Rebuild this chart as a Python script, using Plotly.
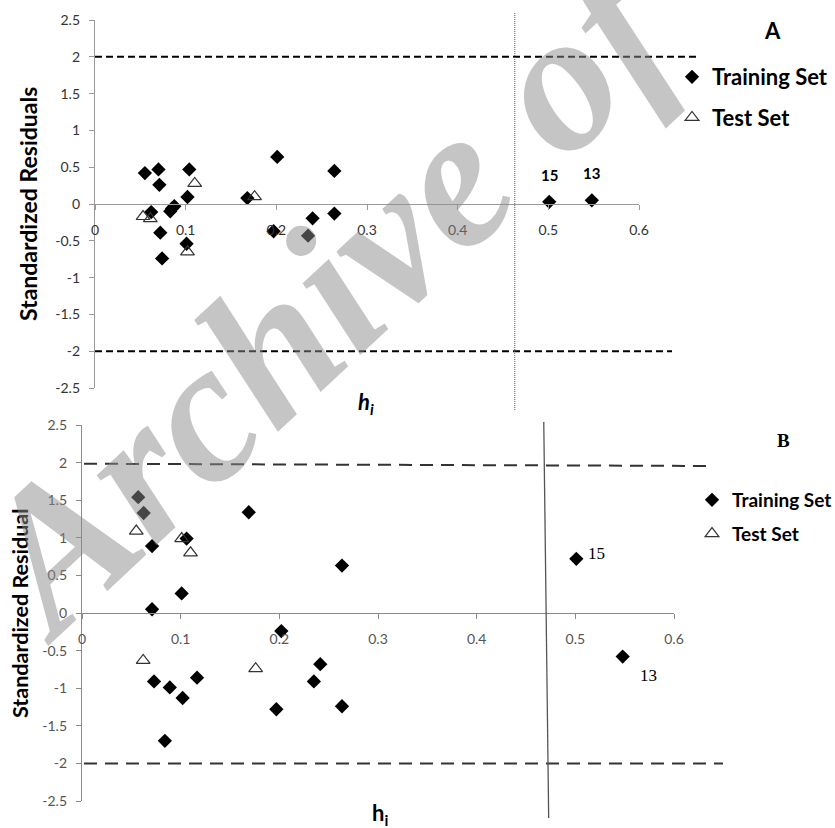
import plotly.graph_objects as go

# ---------------- data ----------------
# Panel A
A_TRAIN_H = [0.055, 0.070, 0.071, 0.062, 0.072, 0.074, 0.083, 0.085, 0.0875, 0.104, 0.102, 0.101,
             0.168, 0.201, 0.197, 0.235, 0.240, 0.264, 0.264, 0.501, 0.548]
A_TRAIN_R = [0.42, 0.47, 0.26, -0.11, -0.39, -0.74, -0.10, -0.06, -0.03, 0.47, 0.095, -0.54,
             0.08, 0.64, -0.37, -0.43, -0.195, 0.45, -0.13, 0.03, 0.05]
A_TEST_H = [0.053, 0.061, 0.110, 0.102, 0.176]
A_TEST_R = [-0.17, -0.20, 0.28, -0.65, 0.10]
A_LABEL_H = [0.501, 0.548]
A_LABEL_R = [0.03, 0.05]
A_LABELS = ["15", "13"]
A_WARNING_H = 0.463

# Panel B
B_TRAIN_H = [0.057, 0.0625, 0.071, 0.071, 0.073, 0.084, 0.089, 0.101, 0.106, 0.102, 0.1166, 0.169,
             0.202, 0.197, 0.235, 0.2415, 0.2635, 0.2635, 0.501, 0.548]
B_TRAIN_R = [1.54, 1.33, 0.89, 0.05, -0.91, -1.70, -0.99, 0.26, 0.99, -1.13, -0.86, 1.34,
             -0.24, -1.28, -0.91, -0.68, 0.63, -1.24, 0.72, -0.58]
B_TEST_H = [0.055, 0.101, 0.110, 0.062, 0.176]
B_TEST_R = [1.09, 0.99, 0.80, -0.63, -0.74]
B_LABEL_H = [0.501, 0.548]
B_LABEL_R = [0.72, -0.58]
B_LABELS = ["15", "13"]
B_WARNING_H = (0.468, 0.473)

LIMIT = 2
Y_TICKS = [-2.5, -2, -1.5, -1, -0.5, 0, 0.5, 1, 1.5, 2, 2.5]
Y_TICK_TEXT = ["-2.5", "-2", "-1.5", "-1", "-0.5", "0", "0.5", "1", "1.5", "2", "2.5"]
X_TICKS = [0, 0.1, 0.2, 0.3, 0.4, 0.5, 0.6]
X_TICK_TEXT = ["0", "0.1", "0.2", "0.3", "0.4", "0.5", "0.6"]

# ---------------- layout geometry ----------------
W, H = 835, 828
def px_x(p):
    return p / W
def px_y(p):
    return 1 - p / H

A_XDOM = [px_x(95), px_x(639)]
A_YDOM = [px_y(388), px_y(20)]
B_XDOM = [px_x(82), px_x(674)]
B_YDOM = [px_y(801), px_y(425)]
YR = [-2.5, 2.5]

def zero_pos(dom):
    return dom[0] + (0 - YR[0]) / (YR[1] - YR[0]) * (dom[1] - dom[0])

CAL = "Lato"
fig = go.Figure()

fig.add_trace(go.Scatter(x=A_TRAIN_H, y=A_TRAIN_R, mode="markers", name="Training Set",
                         marker=dict(symbol="diamond", size=11, color="black"),
                         xaxis="x", yaxis="y", legend="legend", legendgroup="a1"))
fig.add_trace(go.Scatter(x=A_TEST_H, y=A_TEST_R, mode="markers", name="Test Set",
                         marker=dict(symbol="triangle-up-open", size=12, color="#333",
                                     line=dict(width=1.2)),
                         xaxis="x", yaxis="y", legend="legend", legendgroup="a2"))
fig.add_trace(go.Scatter(x=B_TRAIN_H, y=B_TRAIN_R, mode="markers", name="Training Set",
                         marker=dict(symbol="diamond", size=11, color="black"),
                         xaxis="x2", yaxis="y2", legend="legend2", legendgroup="b1"))
fig.add_trace(go.Scatter(x=B_TEST_H, y=B_TEST_R, mode="markers", name="Test Set",
                         marker=dict(symbol="triangle-up-open", size=12, color="#333",
                                     line=dict(width=1.2)),
                         xaxis="x2", yaxis="y2", legend="legend2", legendgroup="b2"))

common_axis = dict(showgrid=False, zeroline=False, showline=True, ticks="outside", ticklen=5,
                   automargin=False)

fig.update_layout(
    width=W, height=H,
    margin=dict(l=0, r=0, t=0, b=0, pad=0, autoexpand=False),
    paper_bgcolor="white", plot_bgcolor="white",
    xaxis=dict(domain=A_XDOM, range=[0, 0.6], anchor="free", position=zero_pos(A_YDOM),
               tickvals=X_TICKS, ticktext=X_TICK_TEXT, linecolor="#9a9a9a", linewidth=1.3,
               tickcolor="#9a9a9a", tickfont=dict(family=CAL, size=14, color="#333"),
               ticklabelstandoff=8, **common_axis),
    yaxis=dict(domain=A_YDOM, range=YR, anchor="x",
               tickvals=Y_TICKS, ticktext=Y_TICK_TEXT, linecolor="#9a9a9a", linewidth=1.3,
               tickcolor="#9a9a9a", tickfont=dict(family=CAL, size=14, color="#333"),
               ticklabelstandoff=6, **common_axis),
    xaxis2=dict(domain=B_XDOM, range=[0, 0.6], anchor="free", position=zero_pos(B_YDOM),
                tickvals=X_TICKS, ticktext=X_TICK_TEXT, linecolor="#8a8a8a", linewidth=1.3,
                tickcolor="#8a8a8a", tickfont=dict(family=CAL, size=14, color="#555"),
                ticklabelstandoff=8, **common_axis),
    yaxis2=dict(domain=B_YDOM, range=YR, anchor="x2",
                tickvals=Y_TICKS, ticktext=Y_TICK_TEXT, linecolor="#8a8a8a", linewidth=1.3,
                tickcolor="#8a8a8a", tickfont=dict(family=CAL, size=14, color="#555"),
                ticklabelstandoff=6, **common_axis),
    legend=dict(x=px_x(672), y=px_y(56), xanchor="left", yanchor="top",
                font=dict(family=CAL, size=22, color="black", weight="bold"),
                tracegroupgap=9, bgcolor="rgba(0,0,0,0)"),
    legend2=dict(x=px_x(692), y=px_y(481), xanchor="left", yanchor="top",
                 font=dict(family=CAL, size=19, color="black", weight="bold"),
                 tracegroupgap=6, bgcolor="rgba(0,0,0,0)"),
)

shapes = [
    # panel A limits
    dict(type="line", xref="paper", yref="y", x0=px_x(95), x1=px_x(697), y0=LIMIT, y1=LIMIT,
         line=dict(color="black", width=2, dash="7px,4px")),
    dict(type="line", xref="paper", yref="y", x0=px_x(95), x1=px_x(672), y0=-LIMIT, y1=-LIMIT,
         line=dict(color="black", width=2, dash="7px,4px")),
    dict(type="line", xref="x", yref="paper", x0=A_WARNING_H, x1=A_WARNING_H,
         y0=px_y(410), y1=px_y(12), line=dict(color="#555", width=1, dash="1px,1px")),
    # panel B limits
    dict(type="line", xref="paper", yref="y2", x0=px_x(84), x1=px_x(708), y0=1.985, y1=1.955,
         line=dict(color="#333", width=2, dash="13px,8px")),
    dict(type="line", xref="paper", yref="y2", x0=px_x(84), x1=px_x(723), y0=-LIMIT, y1=-LIMIT,
         line=dict(color="#333", width=2, dash="13px,8px")),
    dict(type="line", xref="x2", yref="paper", x0=B_WARNING_H[0], x1=B_WARNING_H[1],
         y0=px_y(422), y1=px_y(818), line=dict(color="#555", width=1.3)),
]
fig.update_layout(shapes=shapes)

C = dict(xanchor="center", yanchor="middle", showarrow=False)
ann = []
for h, r, t in zip(A_LABEL_H, A_LABEL_R, A_LABELS):
    ann.append(dict(x=h, y=r, xref="x", yref="y", text="<b>%s</b>" % t,
                    yshift=27, font=dict(family=CAL, size=15, color="black"), **C))
for (h, r, t), (dx, dy) in zip(zip(B_LABEL_H, B_LABEL_R, B_LABELS), [(20, 5), (26, -19)]):
    ann.append(dict(x=h, y=r, xref="x2", yref="y2", text=t,
                    xshift=dx, yshift=dy,
                    font=dict(family="Liberation Serif", size=17, color="black"), **C))

ann += [
    dict(x=px_x(772), y=px_y(30), xref="paper", yref="paper", text="<b>A</b>",
         font=dict(family=CAL, size=22, color="black", weight="bold"), **C),
    dict(x=px_x(783), y=px_y(440), xref="paper", yref="paper", text="<b>B</b>",
         font=dict(family="Liberation Serif", size=19, color="black", weight="bold"), **C),
    dict(x=px_x(28), y=px_y(204), xref="paper", yref="paper", text="<b>Standardized Residuals</b>",
         textangle=-90, font=dict(family=CAL, size=23, color="black", weight="bold"), **C),
    dict(x=px_x(20), y=px_y(613), xref="paper", yref="paper", text="<b>Standardized Residual</b>",
         textangle=-90, font=dict(family=CAL, size=21.5, color="black", weight="bold"), **C),
    dict(x=px_x(366), y=px_y(403), xref="paper", yref="paper", text="<b><i>h<sub>i</sub></i></b>",
         font=dict(family=CAL, size=22, color="black", weight="bold"), **C),
    dict(x=px_x(380), y=px_y(814), xref="paper", yref="paper", text="<b>h<sub>i</sub></b>",
         font=dict(family=CAL, size=22, color="black", weight="bold"), **C),
    # watermark
    dict(x=px_x(326), y=px_y(294), xref="paper", yref="paper", text="<b><i>Archive of</i></b>",
         textangle=-43,
         font=dict(family="Liberation Serif", size=200, color="rgba(140,140,140,0.5)",
                   weight="bold", style="italic"), **C),
]
fig.update_layout(annotations=ann)

fig.write_html("out.html",
               config={"displayModeBar": False},
               post_script="document.body.style.margin='0px';"
                           "document.body.style.overflow='hidden';")
